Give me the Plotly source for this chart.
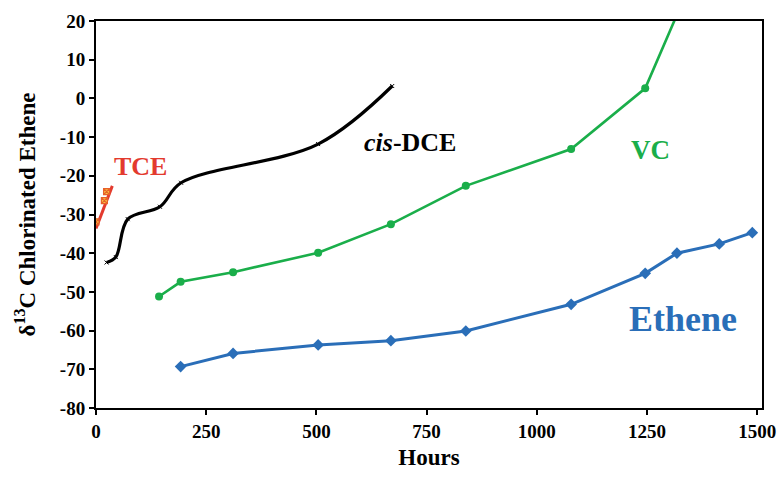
import plotly.graph_objects as go

# ---- data ----
ethene_hours = [192, 311, 504, 669, 839, 1078, 1246, 1318, 1414, 1489]
ethene_d13c = [-69.3, -65.9, -63.7, -62.6, -60.1, -53.2, -45.2, -40.0, -37.6, -34.7]

vc_hours = [143, 192, 311, 504, 669, 839, 1078, 1246, 1318]
vc_d13c = [-51.2, -47.4, -44.9, -39.9, -32.5, -22.6, -13.1, 2.6, 21.6]

dce_hours = [24, 45, 72, 145, 193, 504, 672]
dce_d13c = [-42.4, -41.0, -31.2, -28.0, -21.8, -11.8, 3.2]

tce_hours = [0, 19, 24]
tce_d13c = [-31.9, -26.4, -24.1]
tce_fit_hours = [0, 37]
tce_fit_d13c = [-33.6, -22.6]

x_ticks = [0, 250, 500, 750, 1000, 1250, 1500]
y_ticks = [20, 10, 0, -10, -20, -30, -40, -50, -60, -70, -80]

FONT = "Liberation Serif"
GREEN = "#1AAE4A"
BLUE = "#2A6EB8"
RED = "#E33A2E"

fig = go.Figure()

fig.add_trace(go.Scatter(x=tce_fit_hours, y=tce_fit_d13c, mode="lines",
                         line=dict(color=RED, width=3), showlegend=False))
fig.add_trace(go.Scatter(x=tce_hours, y=tce_d13c, mode="markers",
                         marker=dict(symbol="square-x", size=6, color="#F7C340",
                                     line=dict(color="#E8602A", width=1.2)),
                         showlegend=False))
fig.add_trace(go.Scatter(x=dce_hours, y=dce_d13c, mode="lines+markers",
                         line=dict(color="black", width=3.2, shape="spline", smoothing=1.0),
                         marker=dict(symbol="x-thin", size=4, color="black",
                                     line=dict(color="black", width=1)),
                         showlegend=False))
fig.add_trace(go.Scatter(x=vc_hours, y=vc_d13c, mode="lines+markers",
                         line=dict(color=GREEN, width=2.6),
                         marker=dict(symbol="circle", size=8, color=GREEN),
                         showlegend=False))
fig.add_trace(go.Scatter(x=ethene_hours, y=ethene_d13c, mode="lines+markers",
                         line=dict(color=BLUE, width=3),
                         marker=dict(symbol="diamond", size=9, color=BLUE),
                         showlegend=False))

fig.add_annotation(x=102, y=-17.7, text="TCE", showarrow=False,
                   font=dict(family=FONT, size=26, color=RED, weight="bold"))
fig.add_annotation(x=712, y=-11.5, text="<i>cis</i>-DCE", showarrow=False,
                   font=dict(family=FONT, size=26, color="black", weight="bold"))
fig.add_annotation(x=1259, y=-13.3, text="VC", showarrow=False,
                   font=dict(family=FONT, size=27, color=GREEN, weight="bold"))
fig.add_annotation(x=1332, y=-57, text="Ethene", showarrow=False,
                   font=dict(family=FONT, size=36, color=BLUE, weight="bold"))

tick_font = dict(family=FONT, size=19, color="black", weight="bold")
fig.update_xaxes(range=[0, 1511], tickvals=x_ticks, ticktext=[str(v) for v in x_ticks],
                 showline=True, linecolor="black", linewidth=2, mirror=True,
                 ticks="outside", ticklen=5, tickwidth=1.5, tickcolor="black",
                 showgrid=False, zeroline=False, automargin=False,
                 tickfont=tick_font,
                 title=dict(text="Hours", standoff=8,
                            font=dict(family=FONT, size=23, color="black", weight="bold")))
fig.update_yaxes(range=[-80, 20], tickvals=y_ticks, ticktext=[str(v) for v in y_ticks],
                 showline=True, linecolor="black", linewidth=2, mirror=True,
                 ticks="outside", ticklen=5, tickwidth=1.5, tickcolor="black",
                 showgrid=False, zeroline=False, automargin=False,
                 tickfont=tick_font,
                 title=dict(text="δ<sup>13</sup>C Chlorinated Ethene", standoff=18,
                            font=dict(family=FONT, size=23, color="black", weight="bold")))

fig.update_layout(width=781, height=490, margin=dict(l=96, r=19, t=21, b=82),
                  plot_bgcolor="white", paper_bgcolor="white")

fig.write_html("out.html")
